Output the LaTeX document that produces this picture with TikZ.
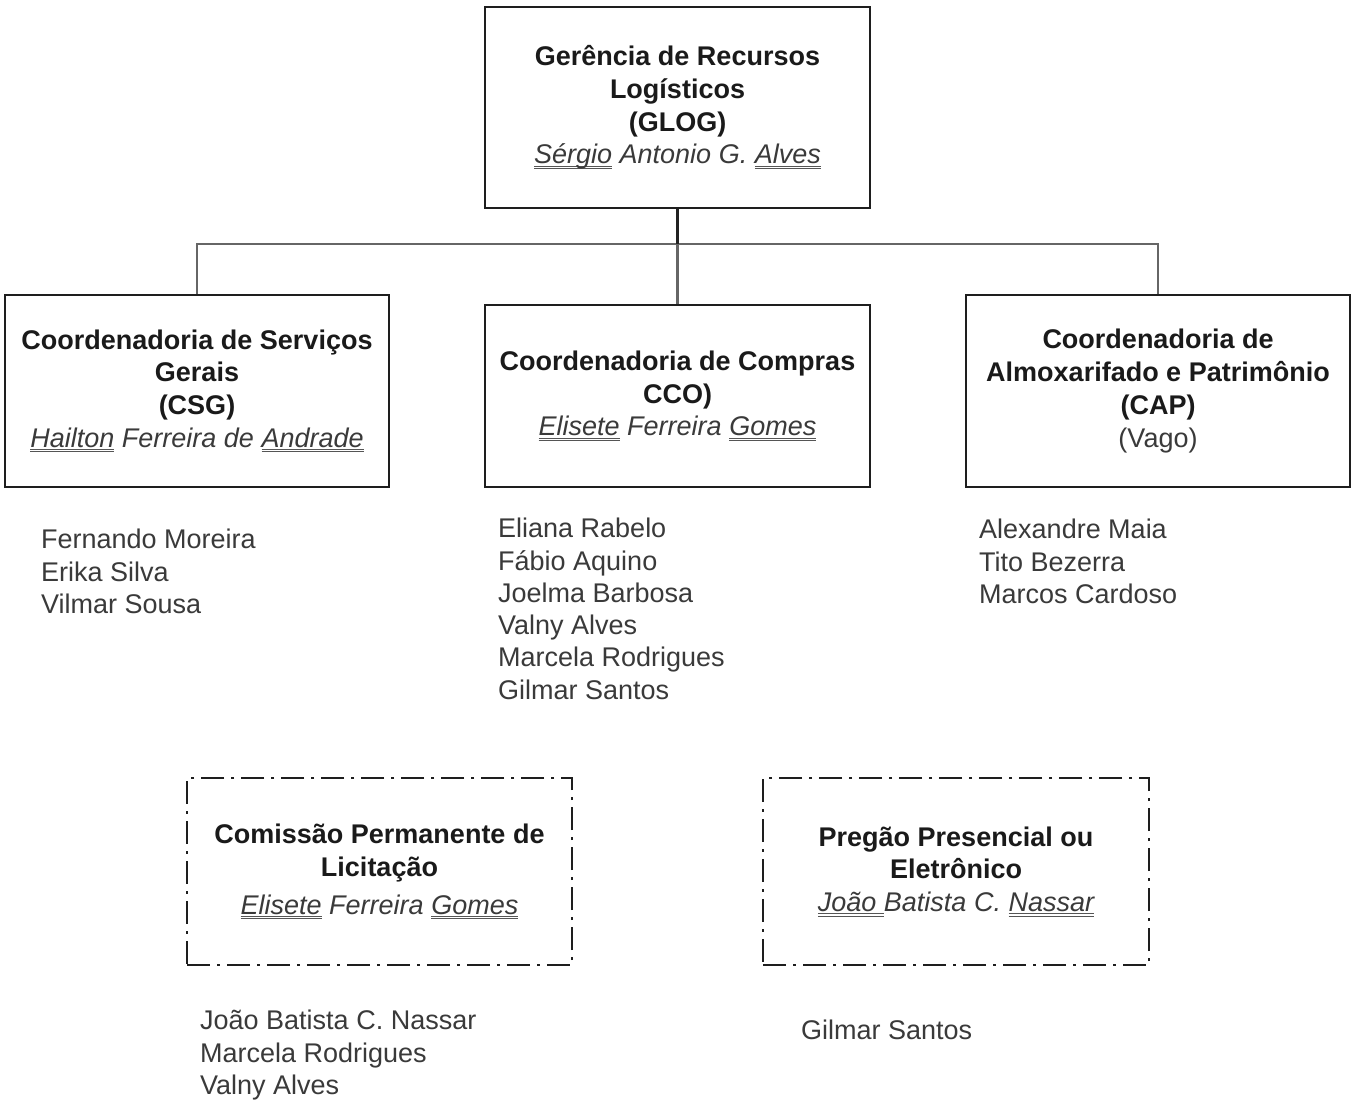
\documentclass[tikz,border=0pt]{standalone}
\usepackage{fontspec}
\setmainfont{Liberation Sans}
\definecolor{boxc}{HTML}{1E1E1E}
\definecolor{linec}{HTML}{666666}
\definecolor{stubc}{HTML}{222222}
\definecolor{txtb}{HTML}{1A1A1A}
\definecolor{txtr}{HTML}{3A3A3A}
\definecolor{ulc}{HTML}{555555}
\newcommand\dul[1]{\setbox0\hbox{#1}\rlap{\color{ulc}\raisebox{-5pt}{\rule{\wd0}{1pt}}}\rlap{\color{ulc}\raisebox{-2.8pt}{\rule{\wd0}{1pt}}}\box0\relax}
\tikzset{
  unitbox/.style={draw=boxc, line width=2pt, align=center, inner sep=0pt,
    font=\fontsize{27}{32.7}\selectfont, text=txtb},
  commbox/.style={unitbox, line width=1.8pt, draw=boxc,
    dash pattern=on 23pt off 7pt on 3pt off 7pt},
  namelist/.style={anchor=north west, align=left, inner sep=0pt,
    font=\fontsize{27}{32.3}\selectfont, text=txtr},
  bus/.style={draw=linec, line width=2.8pt},
  stub/.style={draw=stubc, line width=2.8pt}
}
\begin{document}
\begin{tikzpicture}[x=1pt,y=-1pt]
\useasboundingbox[fill=white] (0,0) rectangle (1356,1104);

\node[unitbox, minimum width=385, minimum height=201] (glog) at (677.5,107.5)
  {\textbf{Gerência de Recursos}\\ \textbf{Logísticos}\\ \textbf{(GLOG)}\\
   {\itshape\color{txtr}\dul{Sérgio} Antonio G. \dul{Alves}}};

\node[unitbox, minimum width=384, minimum height=192] (csg) at (197,391)
  {\textbf{Coordenadoria de Serviços}\\ \textbf{Gerais}\\ \textbf{(CSG)}\\
   {\itshape\color{txtr}\dul{Hailton} Ferreira de \dul{Andrade}}};

\node[unitbox, minimum width=385, minimum height=182] (cco) at (677.5,396)
  {\textbf{Coordenadoria de Compras}\\ \textbf{CCO)}\\
   {\itshape\color{txtr}\dul{Elisete} Ferreira \dul{Gomes}}};

\node[unitbox, minimum width=384, minimum height=192] (cap) at (1158,391)
  {\textbf{Coordenadoria de}\\ \textbf{Almoxarifado e Patrimônio}\\ \textbf{(CAP)}\\
   {\color{txtr}(Vago)}};

\node[commbox, minimum width=385, minimum height=187] (cpl) at (379.5,871.5)
  {\textbf{Comissão Permanente de}\\ \textbf{Licitação}\\[5pt]
   {\itshape\color{txtr}\dul{Elisete} Ferreira \dul{Gomes}}};

\node[commbox, minimum width=386, minimum height=187] (preg) at (956,871.5)
  {\textbf{Pregão Presencial ou}\\ \textbf{Eletrônico}\\
   {\itshape\color{txtr}\dul{João\ }Batista C. \dul{Nassar}}};

\coordinate (j) at (677.5,244);
\draw[bus] (csg.north) |- (j) -| (cap.north);
\draw[bus] (j) -- (cco.north);
\draw[stub] (glog.south) -- (j);

\node[namelist] (csglist) at (41,529)
  {Fernando Moreira\\ Erika Silva\\ Vilmar Sousa};
\node[namelist] (ccolist) at (498,518)
  {Eliana Rabelo\\ Fábio Aquino\\ Joelma Barbosa\\ Valny Alves\\ Marcela Rodrigues\\ Gilmar Santos};
\node[namelist] (caplist) at (979,519)
  {Alexandre Maia\\ Tito Bezerra\\ Marcos Cardoso};
\node[namelist] (cpllist) at (200,1010)
  {João Batista C. Nassar\\ Marcela Rodrigues\\ Valny Alves};
\node[namelist] (preglist) at (801,1020)
  {Gilmar Santos};
\end{tikzpicture}
\end{document}
